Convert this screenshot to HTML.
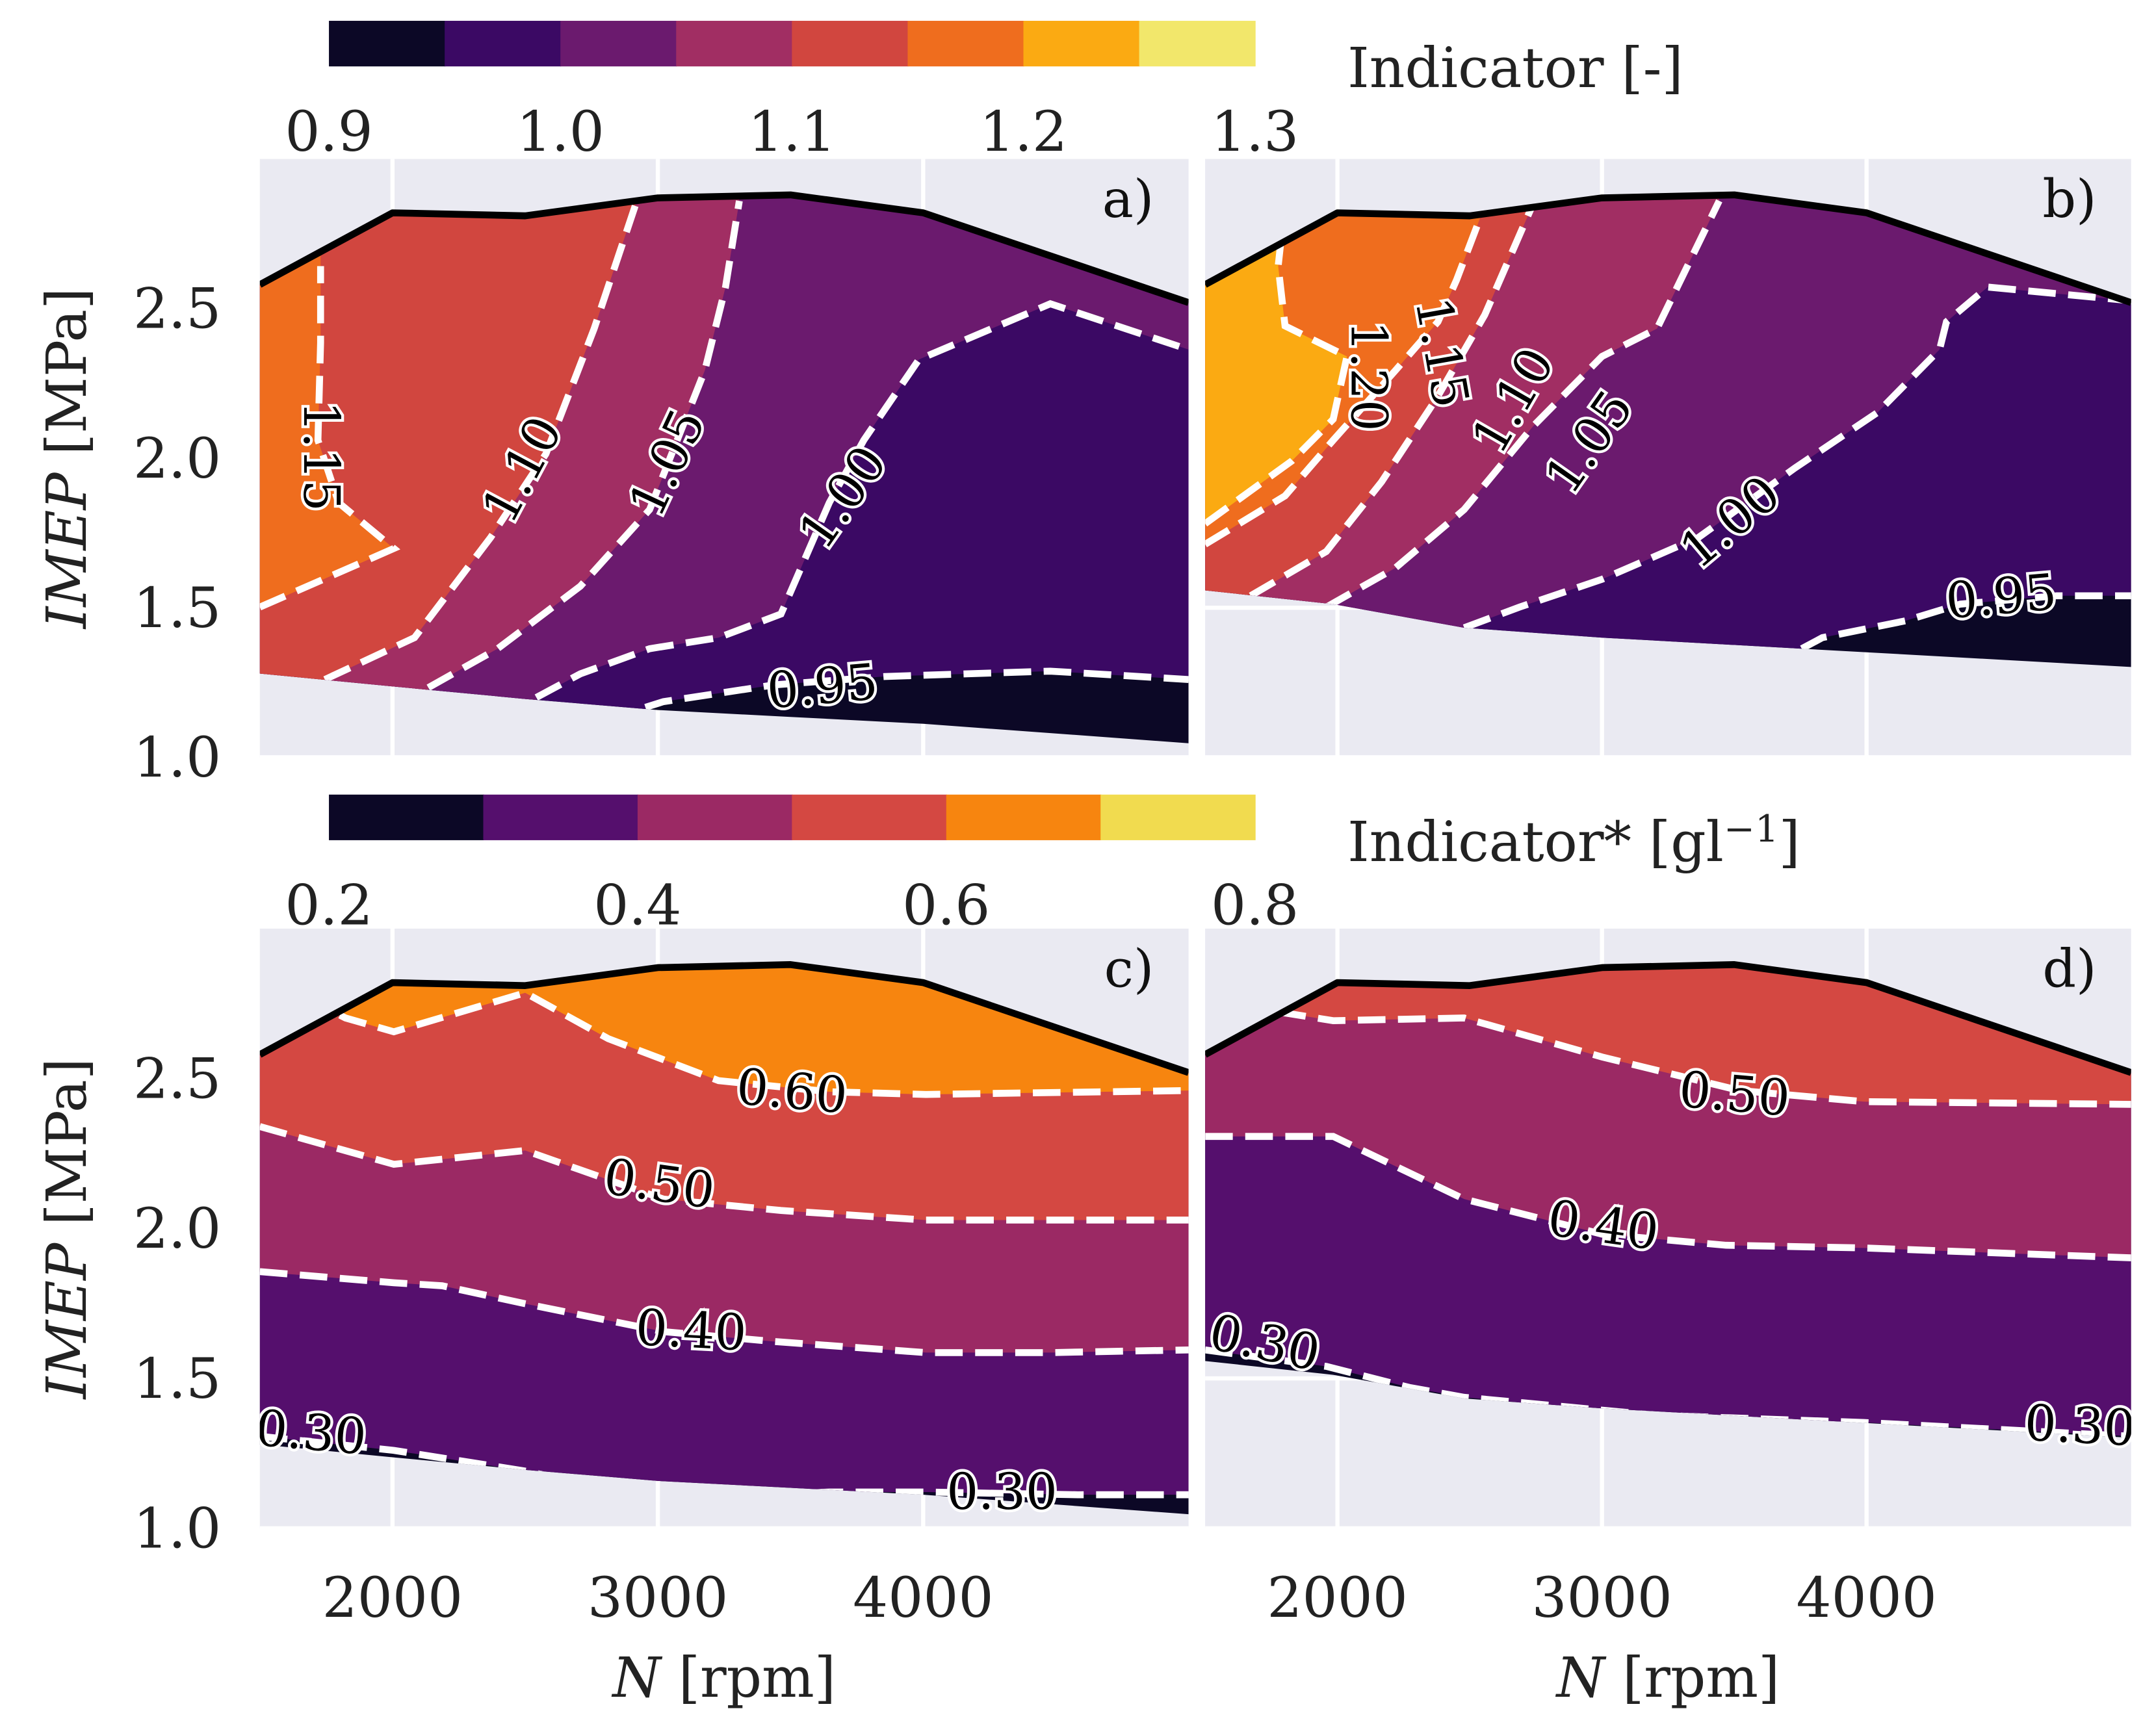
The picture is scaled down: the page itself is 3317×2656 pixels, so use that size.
<!DOCTYPE html>
<html><head><meta charset="utf-8">
<style>
html,body{margin:0;padding:0;background:#fff;}
svg{display:block;}
text{font-family:"DejaVu Serif","Liberation Serif",serif;}
</style></head>
<body>
<svg id="chart" width="3317" height="2656" viewBox="0 0 1560 1249" xmlns="http://www.w3.org/2000/svg">
</svg>
<script>
// ---- data ----
const cbColors1 = ['#0c0826','#3b0964','#6b1a6e','#a12e63','#d1463f','#ef6d1e','#fbaa12','#f2e76b'];
const cbTicks1 = ['0.9','1.0','1.1','1.2','1.3'];
const cbColors2 = ['#0c0826','#550f6d','#9b2964','#d44842','#f7850f','#f1db4f'];
const cbTicks2 = ['0.2','0.4','0.6','0.8'];
const xTicks = [2000,3000,4000];
const yTicks = [1.0,1.5,2.0,2.5];

const topN = [1500,2000,2500,3000,3500,4000,5000];
const topImep = [2.58,2.82,2.81,2.87,2.88,2.82,2.52];
const botN_A = [1500,2000,2500,3000,3500,4000,5000];
const botImep_A = [1.28,1.237,1.195,1.158,1.135,1.112,1.047];
const botN_B = [1500,1984,2479,3000,3755,5000];
const botImep_B = [1.558,1.512,1.433,1.40,1.363,1.302];

// panel a contours
const a095N = [2953,3021,3438,3854,4479,5000];
const a095I = [1.167,1.186,1.242,1.27,1.288,1.26];
const a100N = [2542,2708,2969,3229,3464,3646,3776,3984,4479,5000];
const a100I = [1.2,1.279,1.363,1.4,1.479,1.851,2.06,2.33,2.516,2.363];
const a105N = [2135,2396,2708,2969,3177,3255,3307];
const a105I = [1.233,1.363,1.572,1.828,2.293,2.572,2.86];
const a110N = [1745,2083,2370,2578,2760,2917];
const a110I = [1.26,1.4,1.735,2.014,2.433,2.85];
const a115N = [1500,2005,1797,1719,1729,1729];
const a115I = [1.502,1.698,1.851,2.06,2.386,2.642];
// panel b contours
const b095N = [3755,3833,4146,4354,4719,5000];
const b095I = [1.363,1.4,1.456,1.512,1.54,1.54];
const b100N = [2479,2688,3000,3365,3729,4042,4276,4302,4458,5000];
const b100I = [1.433,1.502,1.595,1.735,1.967,2.153,2.363,2.456,2.572,2.526];
const b105N = [1958,2219,2479,2740,3000,3208,3443];
const b105I = [1.502,1.633,1.828,2.107,2.34,2.433,2.86];
const b110N = [1672,1958,2167,2375,2557,2740];
const b110I = [1.54,1.688,1.921,2.2,2.479,2.851];
const b115N = [1500,1802,1984,2219,2380,2450,2560];
const b115I = [1.712,1.874,2.06,2.293,2.456,2.595,2.851];
const b120N = [1500,1828,1984,2036,1802,1776,1802];
const b120I = [1.781,1.991,2.13,2.34,2.442,2.642,2.851];
// panel c contours
const c030N = [1500,2005,2500,3005,3646,4010,4583,5000];
const c030I = [1.307,1.26,1.191,1.098,1.121,1.121,1.112,1.112];
const c040N = [1500,2005,2187,2500,3021,3438,4010,4479,5000];
const c040I = [1.856,1.819,1.809,1.749,1.656,1.623,1.586,1.586,1.595];
const c050N = [1500,2005,2500,3021,3464,4010,5000];
const c050I = [2.34,2.214,2.26,2.098,2.06,2.028,2.028];
const c060N = [1667,1823,2005,2500,2813,3229,3646,4010,5000];
const c060I = [2.772,2.702,2.656,2.786,2.633,2.493,2.456,2.447,2.46];
// panel d contours
const d030N = [1500,1958,2271,2479,3208,3990,5000];
const d030I = [1.595,1.54,1.47,1.437,1.377,1.353,1.307];
const d040N = [1500,1984,2479,3000,3469,3990,5000];
const d040I = [2.307,2.307,2.098,1.981,1.944,1.935,1.902];
const d050N = [1646,1750,1984,2479,3000,3521,3990,5000];
const d050I = [2.786,2.726,2.693,2.702,2.572,2.46,2.423,2.414];

// ---- layout ----
const NS='http://www.w3.org/2000/svg';
const svg=document.getElementById('chart');
function mk(tag,attrs,parent){const e=document.createElementNS(NS,tag);for(const k in attrs)e.setAttribute(k,attrs[k]);(parent||svg).appendChild(e);return e;}

const panels=[
 {id:'a',x0:188,x1:860,y0:115,y1:548,letter:'a)',colors:cbColors1,botN:botN_A,botI:botImep_A,
  contours:[
   {n:a095N,i:a095I,c:1,cn:[5100,5100,1400,1400,2953],ci:[1.26,3.2,3.2,0.9,0.9]},
   {n:a100N,i:a100I,c:2,cn:[5100,5100,1400,1400,2542],ci:[2.36,3.2,3.2,0.9,0.9]},
   {n:a105N,i:a105I,c:3,cn:[3307,1400,1400,2135],ci:[3.2,3.2,0.9,0.9]},
   {n:a110N,i:a110I,c:4,cn:[2917,1400,1400,1745],ci:[3.2,3.2,0.9,0.9]},
   {n:a115N,i:a115I,c:5,cn:[1729,1400,1400],ci:[3.2,3.2,1.5]}],
  labels:[['1.15',232,330,90],['1.10',378,340,-62],['1.05',483,335,-65],['1.00',610,360,-55],['0.95',595,497,-5]]},
 {id:'b',x0:872,x1:1542,y0:115,y1:548,letter:'b)',colors:cbColors1,botN:botN_B,botI:botImep_B,
  contours:[
   {n:b095N,i:b095I,c:1,cn:[5100,5100,1400,1400,3755],ci:[1.54,3.2,3.2,0.9,0.9]},
   {n:b100N,i:b100I,c:2,cn:[5100,5100,1400,1400,2479],ci:[2.53,3.2,3.2,0.9,0.9]},
   {n:b105N,i:b105I,c:3,cn:[3443,1400,1400,1958],ci:[3.2,3.2,0.9,0.9]},
   {n:b110N,i:b110I,c:4,cn:[2740,1400,1400,1672],ci:[3.2,3.2,0.9,0.9]},
   {n:b115N,i:b115I,c:5,cn:[2560,1400,1400],ci:[3.2,3.2,1.71]},
   {n:b120N,i:b120I,c:6,cn:[1802,1400,1400],ci:[3.2,3.2,1.78]}],
  labels:[['1.20',990,272,90],['1.15',1043,255,80],['1.10',1095,290,-60],['1.05',1150,320,-55],['1.00',1252,378,-40],['0.95',1448,432,-5]]},
 {id:'c',x0:188,x1:860,y0:672,y1:1106,letter:'c)',colors:cbColors2,botN:botN_A,botI:botImep_A,
  contours:[
   {n:c030N,i:c030I,c:1,cn:[5100,5100,1400,1400],ci:[1.11,3.2,3.2,1.3]},
   {n:c040N,i:c040I,c:2,cn:[5100,5100,1400,1400],ci:[1.6,3.2,3.2,1.86]},
   {n:c050N,i:c050I,c:3,cn:[5100,5100,1400,1400],ci:[2.03,3.2,3.2,2.34]},
   {n:c060N,i:c060I,c:4,cn:[5100,5100,1400,1400],ci:[2.46,3.2,3.2,2.77]}],
  labels:[['0.60',573,790,5],['0.50',477,857,8],['0.40',500,963,3],['0.30',225,1037,5],['0.30',725,1080,0]]},
 {id:'d',x0:872,x1:1542,y0:672,y1:1106,letter:'d)',colors:cbColors2,botN:botN_B,botI:botImep_B,
  contours:[
   {n:d030N,i:d030I,c:1,cn:[5100,5100,1400,1400],ci:[1.3,3.2,3.2,1.6]},
   {n:d040N,i:d040I,c:2,cn:[5100,5100,1400,1400],ci:[1.9,3.2,3.2,2.3]},
   {n:d050N,i:d050I,c:3,cn:[5100,5100,1400,1400],ci:[2.41,3.2,3.2,2.79]}],
  labels:[['0.50',1255,792,5],['0.40',1160,887,8],['0.30',915,972,12],['0.30',1505,1032,3]]}
];

panels.forEach(p=>{
  const sx=n=>p.x0+(n-1500)/3500*(p.x1-p.x0);
  const sy=v=>p.y1-(v-1.0)/2.0*(p.y1-p.y0);
  const g=mk('g',{});
  
  
  mk('rect',{x:p.x0,y:p.y0,width:p.x1-p.x0,height:p.y1-p.y0,fill:'#eaeaf2'},g);
  xTicks.forEach(t=>{const l=mk('line',{x1:sx(t),x2:sx(t),y1:p.y0,y2:p.y1,stroke:'#fff','stroke-width':3},g);});
  yTicks.forEach(t=>{const l=mk('line',{x1:p.x0,x2:p.x1,y1:sy(t),y2:sy(t),stroke:'#fff','stroke-width':3},g);});
  let pts=topN.map((n,k)=>sx(n)+','+sy(topImep[k]));
  let bot=p.botN.map((n,k)=>sx(n)+','+sy(p.botI[k])).reverse();
  const cp=mk('clipPath',{id:'clip-'+p.id},g);
  mk('polygon',{points:pts.concat(bot).join(' ')},cp);
  const ax=mk('clipPath',{id:'ax-'+p.id},g);
  mk('rect',{x:p.x0,y:p.y0,width:p.x1-p.x0,height:p.y1-p.y0},ax);
  const fg=mk('g',{'clip-path':'url(#clip-'+p.id+')'},g);
  const base=mk('rect',{x:p.x0-20,y:p.y0-40,width:p.x1-p.x0+40,height:p.y1-p.y0+80,fill:p.colors[0]},fg);
  
  
  p.contours.forEach(c=>{
    const line=c.n.map((n,k)=>sx(n)+','+sy(c.i[k]));
    const close=c.cn.map((n,k)=>sx(n)+','+sy(c.ci[k]));
    const poly=mk('polygon',{points:line.concat(close).join(' '),fill:p.colors[c.c]},fg);
    
    
  });
  const lg=mk('g',{'clip-path':'url(#ax-'+p.id+')'},g);
  const lg2=mk('g',{'clip-path':'url(#clip-'+p.id+')'},lg);
  p.contours.forEach(c=>{
    const pl=mk('polyline',{points:c.n.map((n,k)=>sx(n)+','+sy(c.i[k])).join(' '),fill:'none',stroke:'#fff','stroke-width':5,'stroke-dasharray':'20 9'},lg2);
    
    
  });
  const tb=mk('polyline',{points:pts.join(' '),fill:'none',stroke:'#000','stroke-width':5,'stroke-linejoin':'round'},lg);
  
  
  const lab=mk('g',{'clip-path':'url(#ax-'+p.id+')'},g);
  p.labels.forEach(L=>{
    const t=mk('text',{x:L[1],y:L[2],'font-size':36,'text-anchor':'middle','dominant-baseline':'central',transform:'rotate('+L[3]+' '+L[1]+' '+L[2]+')',fill:'#000',stroke:'#fff','stroke-width':4,'paint-order':'stroke'},lab);
    t.textContent=L[0];
    
    
  });
  const lt=mk('text',{x:p.x1-25,y:p.y0+42,'font-size':38,'text-anchor':'end',fill:'#111'},g);
  lt.textContent=p.letter;
  
  
  if(p.id==='a'||p.id==='c'){
    yTicks.forEach(t=>{const e=mk('text',{x:160,y:sy(t)+14,'font-size':40,'text-anchor':'end',fill:'#222'});e.textContent=t.toFixed(1);});
    const cy=(p.y0+p.y1)/2;
    const yl=mk('text',{x:62,y:cy,'font-size':40,'text-anchor':'middle',transform:'rotate(-90 62 '+cy+')',fill:'#222'});
    yl.innerHTML='<tspan font-style="italic">IMEP</tspan> [MPa]';
    
    
  }
  if(p.id==='c'||p.id==='d'){
    xTicks.forEach(t=>{const e=mk('text',{x:sx(t),y:1170,'font-size':40,'text-anchor':'middle',fill:'#222'});e.textContent=t;});
    const cx=(p.x0+p.x1)/2;
    const xl=mk('text',{x:cx,y:1228,'font-size':40,'text-anchor':'middle',fill:'#222'});
    xl.innerHTML='<tspan font-style="italic">N</tspan> [rpm]';
    
    
  }
});

function colorbar(colors,ticks,y,labelHTML,name){
  const x0=238,x1=908,w=(x1-x0)/colors.length;
  const g=mk('g',{});
  
  
  colors.forEach((c,k)=>{const r=mk('rect',{x:x0+k*w,y:y,width:w+0.5,height:33,fill:c},g);});
  ticks.forEach((t,k)=>{const e=mk('text',{x:x0+k*(x1-x0)/(ticks.length-1),y:y+94,'font-size':40,'text-anchor':'middle',fill:'#222'},g);e.textContent=t;});
  const l=mk('text',{x:975,y:y+48,'font-size':40,fill:'#222'},g);
  l.innerHTML=labelHTML;
  
  
}
colorbar(cbColors1,cbTicks1,15,'Indicator [-]','colorbar-indicator');
colorbar(cbColors2,cbTicks2,575,'Indicator* [gl<tspan dy="-14" font-size="27">−1</tspan><tspan dy="14">]</tspan>','colorbar-indicator-star');
</script>
</body></html>
